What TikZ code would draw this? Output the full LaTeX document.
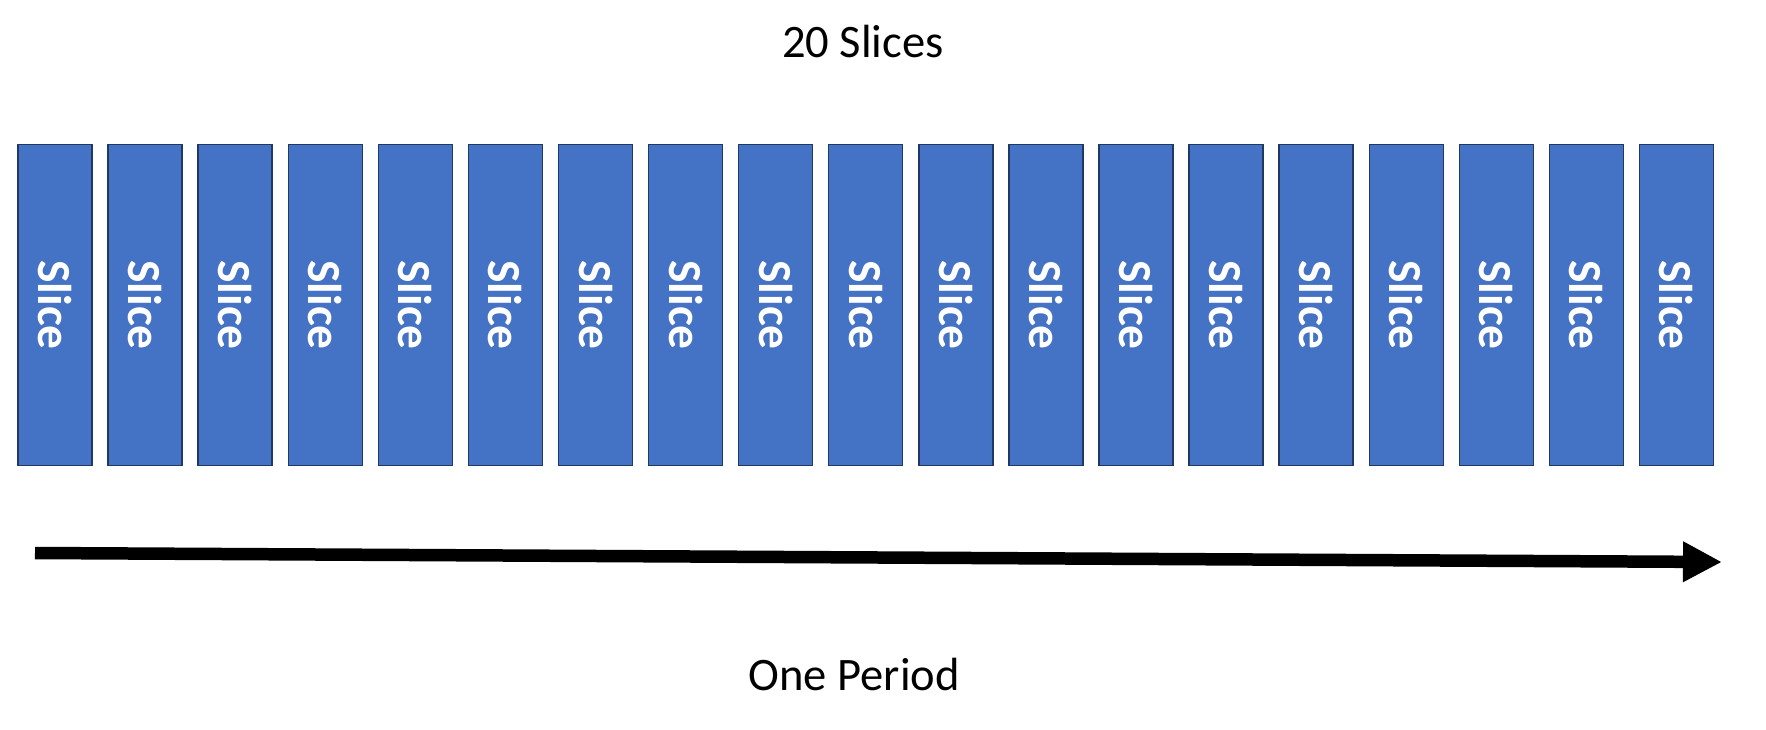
\documentclass[tikz,border=0pt]{standalone}
\usepackage{fontspec}
\setmainfont{Carlito}
\usetikzlibrary{arrows.meta}
\definecolor{cslice}{HTML}{4472C4}
\definecolor{cedge}{HTML}{203864}

\begin{document}
\begin{tikzpicture}[
  x=0.02cm, y=-0.02cm,
  slice/.style={rotate=-90, draw=cedge, fill=cslice, line width=0.8pt,
                minimum width=6.42cm, minimum height=1.48cm, inner sep=0pt,
                text=white, font=\fontsize{27}{30}\selectfont\bfseries},
  lbl/.style={font=\fontsize{26.5}{30}\selectfont},
  period/.style={-{Triangle[length=0.78cm, width=0.76cm]}, line width=0.25cm},
]
\useasboundingbox (0,0) rectangle (1766,730);

% ---- title ----
\node[lbl] (title) at (863,42) {20 Slices};

% ---- slices ----
\foreach \i in {1,...,19}
  \node[slice] (s\i) at ({55+90.08*(\i-1)},305) {Slice};

% ---- time axis ----
\coordinate (pstart) at (35,553);
\coordinate (pend) at (1722,562);
\draw[period] (pstart) -- (pend);
\node[lbl] (period) at (854,674) {One Period};
\end{tikzpicture}
\end{document}
